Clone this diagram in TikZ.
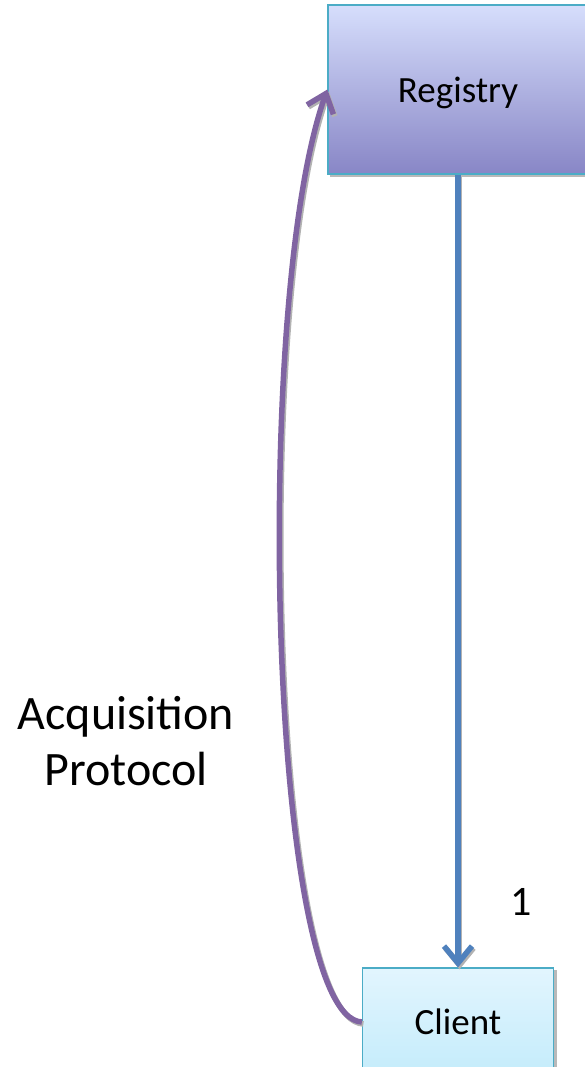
\documentclass[tikz,border=0pt]{standalone}
\usepackage{fontspec}
\setmainfont{Carlito}
\usetikzlibrary{arrows.meta}

\definecolor{regtop}{HTML}{D6DEFC}
\definecolor{regbot}{HTML}{8886C6}
\definecolor{clitop}{HTML}{E2F5FE}
\definecolor{clibot}{HTML}{C4ECFB}
\definecolor{boxline}{HTML}{4BACC6}
\definecolor{callblue}{HTML}{4F81BD}
\definecolor{acqpurple}{HTML}{8064A2}

\tikzset{
    boxshadow/.style={fill=gray!55, draw=none},
    regbox/.style={draw=boxline, line width=1.2pt, top color=regtop, bottom color=regbot,
        minimum width=260pt, minimum height=169pt, text depth=0pt, font=\fontsize{37}{40}\selectfont},
    clibox/.style={draw=boxline, line width=1.2pt, top color=clitop, bottom color=clibot,
        minimum width=191pt, minimum height=108pt, font=\fontsize{37}{40}\selectfont},
    tip/.style={-{Straight Barb[length=17pt,width=28pt,line width=5.5pt]}},
    shade/.style={draw=gray!60, line width=5.5pt, tip, transform canvas={shift={(1.5pt,-2pt)}}},
    label/.style={font=\fontsize{48}{56}\selectfont, align=center}
}

\begin{document}
\begin{tikzpicture}[x=1pt,y=-1pt]
    \useasboundingbox (0,0) rectangle (585,1067);

    % box shadows
    \fill[boxshadow] (330,7) rectangle (592,177);
    \fill[boxshadow] (364,970) rectangle (557,1080);

    \node[regbox] (registry) at (458,89.5) {Registry};
    \node[clibox] (client) at (458,1022) {Client};

    % registry -> client
    \draw[shade] (registry.south) -- (client.north);
    \draw[callblue, line width=5.5pt, tip] (registry.south) -- (client.north);

    % acquisition back up to the registry
    \draw[shade] (client.west) .. controls (268,1018) and (252,300) .. (registry.west);
    \draw[acqpurple, line width=5.5pt, tip] (client.west) .. controls (268,1018) and (252,300) .. (registry.west);

    \node[font=\fontsize{42}{44}\selectfont] (one) at (521,902) {1};
    \node[label] (acq) at (126,741) {Acquisition\\Protocol};

\end{tikzpicture}
\end{document}
